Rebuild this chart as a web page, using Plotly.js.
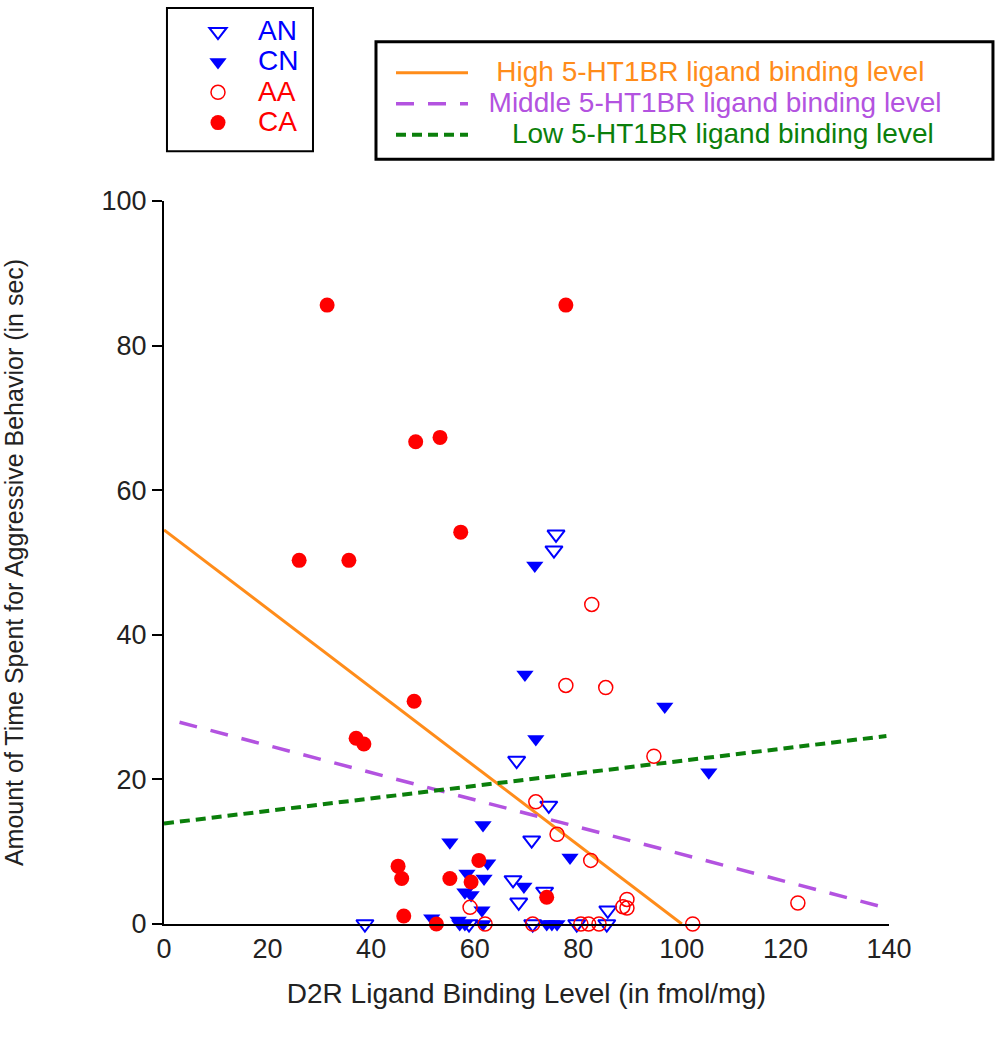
<!DOCTYPE html>
<html>
<head>
<meta charset="utf-8">
<script src="https://cdn.plot.ly/plotly-3.0.1.min.js"></script>
<style>
  body { margin: 0; background: #fff; }
  #chart { width: 999px; height: 1050px; }
</style>
</head>
<body>
<div id="chart"></div>
<script>
// AN: open blue triangles
const anX = [75.7, 75.3, 68.1, 74.3, 71.0, 67.4, 68.5, 85.7, 73.5, 38.8, 58.9, 71.2, 79.7, 85.5];
const anY = [53.9, 51.7, 22.6, 16.4, 11.6, 6.1, 3.0, 1.9, 4.5, 0, 0, 0, 0, 0];

// CN: filled blue triangles
const cnX = [71.6, 69.7, 71.8, 96.7, 105.2, 61.6, 55.2, 78.4, 62.5, 58.5, 61.8, 69.5, 59.3, 58.1, 61.4, 51.7, 56.8, 57.1, 58.1, 61.6, 73.9, 74.9, 75.9];
const cnY = [49.6, 34.5, 25.6, 30.1, 21.0, 13.7, 11.3, 9.2, 8.4, 7.0, 6.3, 5.2, 4.0, 4.4, 1.9, 0.8, 0.5, 0, 0, 0, 0, 0, 0];

// AA: open red circles
const aaX = [82.6, 77.6, 85.3, 94.6, 71.8, 75.9, 82.4, 59.1, 89.4, 88.6, 89.4, 62.0, 71.2, 80.5, 82.0, 84.0, 102.1, 122.4];
const aaY = [44.2, 33.0, 32.7, 23.2, 16.9, 12.4, 8.8, 2.3, 3.4, 2.4, 2.2, 0, 0, 0, 0, 0, 0, 2.9];

// CA: filled red circles
const caX = [31.5, 77.6, 48.6, 53.3, 57.3, 26.1, 35.7, 48.3, 37.1, 38.6, 45.2, 45.9, 46.3, 52.6, 55.2, 60.8, 59.3, 73.9];
const caY = [85.6, 85.6, 66.7, 67.3, 54.2, 50.3, 50.3, 30.8, 25.7, 24.9, 8.0, 6.3, 1.1, 0, 6.3, 8.8, 5.8, 3.7];

// fitted lines (end points)
const highX = [0, 100], highY = [54.5, 0];
const midX = [3, 138], midY = [27.9, 2.5];
const lowX = [0, 139.5], lowY = [13.9, 26.0];

const xTicks = [0, 20, 40, 60, 80, 100, 120, 140];
const yTicks = [0, 20, 40, 60, 80, 100];

const BLUE = '#0000ff', RED = '#ff0000';
const ORANGE = '#ff8c1a', PURPLE = '#b353e0', GREEN = '#0b7f0b';

// coloured legend label; pad = leading non-breaking spaces so the lines look centred
const lbl = (txt, col, size, pad) =>
  '<span style="color:' + col + ';font-size:' + size + 'px">' + '&nbsp;'.repeat(pad || 0) + txt + '</span>';

const data = [
  {
    x: highX, y: highY, type: 'scatter', mode: 'lines', cliponaxis: false,
    line: { color: ORANGE, width: 3 },
    name: lbl('High 5-HT1BR ligand binding level', ORANGE, 28, 3), legend: 'legend2'
  },
  {
    x: midX, y: midY, type: 'scatter', mode: 'lines', cliponaxis: false,
    line: { color: PURPLE, width: 3.5, dash: '18px,14px' },
    name: lbl('Middle 5-HT1BR ligand binding level', PURPLE, 28, 2), legend: 'legend2'
  },
  {
    x: lowX, y: lowY, type: 'scatter', mode: 'lines', cliponaxis: false,
    line: { color: GREEN, width: 4, dash: '10px,6px' },
    name: lbl('Low 5-HT1BR ligand binding level', GREEN, 28, 5), legend: 'legend2'
  },
  {
    x: anX, y: anY, type: 'scatter', mode: 'markers', cliponaxis: false,
    marker: { symbol: 'triangle-down-open', size: 15, color: BLUE, line: { width: 2 } },
    name: lbl('AN', BLUE, 28)
  },
  {
    x: cnX, y: cnY, type: 'scatter', mode: 'markers', cliponaxis: false,
    marker: { symbol: 'triangle-down', size: 15, color: BLUE },
    name: lbl('CN', BLUE, 28)
  },
  {
    x: aaX, y: aaY, type: 'scatter', mode: 'markers', cliponaxis: false,
    marker: { symbol: 'circle-open', size: 14, color: RED, line: { width: 1.5 } },
    name: lbl('AA', RED, 28)
  },
  {
    x: caX, y: caY, type: 'scatter', mode: 'markers', cliponaxis: false,
    marker: { symbol: 'circle', size: 15, color: RED },
    name: lbl('CA', RED, 28)
  }
];

const layout = {
  width: 999, height: 1050,
  margin: { l: 164, r: 110, t: 197, b: 126 },
  paper_bgcolor: '#fff', plot_bgcolor: '#fff',
  font: { family: 'Liberation Sans, Arial, sans-serif', color: '#222' },
  showlegend: true,
  xaxis: {
    range: [0, 140], tickvals: xTicks, ticks: '',
    showline: true, linecolor: '#000', linewidth: 2,
    showgrid: false, zeroline: false,
    tickfont: { size: 27, color: '#222' },
    title: { text: 'D2R Ligand Binding Level (in fmol/mg)', font: { size: 28, color: '#222' }, standoff: 20 }
  },
  yaxis: {
    range: [0, 100], tickvals: yTicks, ticks: 'outside', ticklen: 10, tickwidth: 2, tickcolor: '#000',
    showline: true, linecolor: '#000', linewidth: 2,
    showgrid: false, zeroline: false,
    tickfont: { size: 27, color: '#222' },
    title: { text: 'Amount of Time Spent for Aggressive Behavior (in sec)', font: { size: 25, color: '#222' }, standoff: 75 }
  },
  legend: {
    x: 0.0193, xanchor: 'left', y: 1.262, yanchor: 'top',
    bgcolor: 'rgba(0,0,0,0)', borderwidth: 0,
    font: { size: 21 }, itemwidth: 70, tracegroupgap: 0
  },
  legend2: {
    x: 0.3131, xanchor: 'left', y: 1.2056, yanchor: 'top',
    bgcolor: 'rgba(0,0,0,0)', borderwidth: 0,
    font: { size: 21.5 }, itemwidth: 72, tracegroupgap: 0
  },
  shapes: [
    { type: 'rect', xref: 'paper', yref: 'paper', x0: 0.0041, x1: 0.2055, y0: 1.0688, y1: 1.2668,
      line: { color: '#000', width: 2 } },
    { type: 'rect', xref: 'paper', yref: 'paper', x0: 0.2924, x1: 1.1434, y0: 1.0578, y1: 1.2201,
      line: { color: '#000', width: 3 } }
  ]
};

Plotly.newPlot('chart', data, layout, { displayModeBar: false, staticPlot: true });
</script>
</body>
</html>
